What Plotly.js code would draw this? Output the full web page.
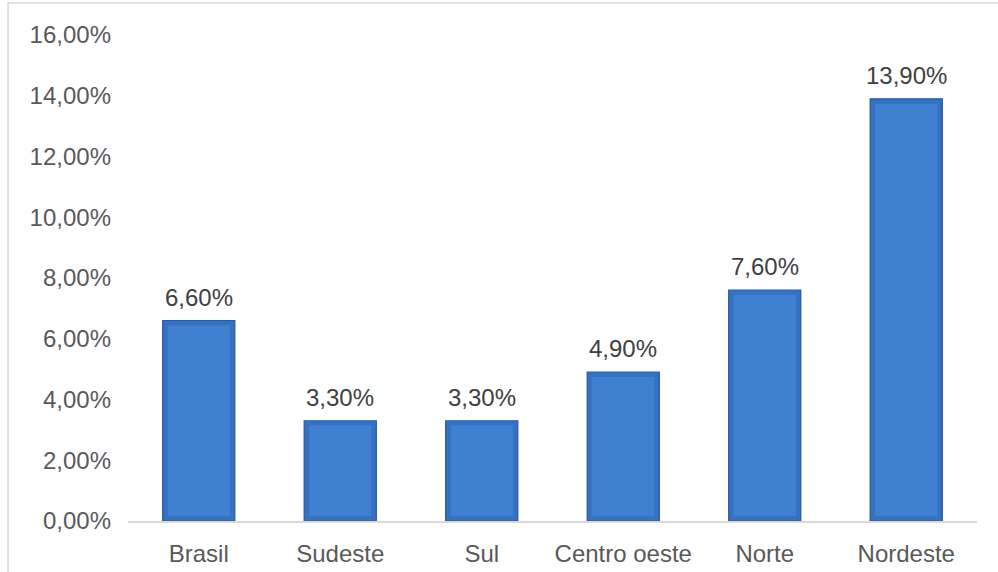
<!DOCTYPE html>
<html>
<head>
<meta charset="utf-8">
<script src="https://cdn.plot.ly/plotly-3.0.1.min.js"></script>
<style>html,body{margin:0;padding:0;background:#fff;}#chart{width:998px;height:572px;}</style>
</head>
<body>
<div id="chart"></div>
<script>
const categories = ["Brasil", "Sudeste", "Sul", "Centro oeste", "Norte", "Nordeste"];
const values = [6.6, 3.3, 3.3, 4.9, 7.6, 13.9];
const tickValues = [0, 2, 4, 6, 8, 10, 12, 14, 16];

function fmt(v) { return v.toFixed(2).replace('.', ',') + '%'; }
const tickLabels = tickValues.map(fmt);
const dataLabels = values.map(fmt);

// bevel inset (in axis units) used only for styling the inner face
const inset = 0.16;

const outer = {
  type: 'bar', x: categories, y: values, width: 0.51,
  marker: { color: '#3670c0', line: { color: '#2a5a9c', width: 1.2 } },
  hoverinfo: 'skip'
};
const inner = {
  type: 'bar', x: categories, y: values.map(v => v - 2 * inset),
  base: values.map(() => inset), width: 0.44,
  marker: { color: '#3f80d0', line: { width: 0 } },
  hoverinfo: 'skip'
};

const annotations = categories.map((c, i) => ({
  x: c, y: values[i], text: dataLabels[i], showarrow: false,
  yanchor: 'bottom', yshift: 8,
  font: { family: 'Liberation Sans, Arial, sans-serif', size: 24, color: '#404040' }
}));

const layout = {
  width: 998, height: 572,
  margin: { l: 128, r: 21, t: 35, b: 51 },
  paper_bgcolor: '#fff', plot_bgcolor: '#fff',
  showlegend: false,
  barmode: 'overlay',
  font: { family: 'Liberation Sans, Arial, sans-serif', size: 24, color: '#595959' },
  xaxis: {
    type: 'category', showgrid: false, zeroline: false,
    showline: true, linecolor: '#d9d9d9', linewidth: 1.5,
    ticks: '', ticklabelstandoff: 11,
    tickfont: { size: 24, color: '#595959' }
  },
  yaxis: {
    range: [0, 16], tickvals: tickValues, ticktext: tickLabels,
    showgrid: false, zeroline: false, showline: false, ticks: '',
    ticklabelstandoff: 16,
    tickfont: { size: 24, color: '#595959' }
  },
  annotations: annotations,
  shapes: [{
    type: 'rect', xref: 'paper', yref: 'paper',
    x0: -0.1413, x1: 1.1, y0: -0.3, y1: 1.0658,
    line: { color: '#d9d9d9', width: 1.5 }, layer: 'below'
  }]
};

Plotly.newPlot('chart', [outer, inner], layout, { displayModeBar: false, staticPlot: true });
</script>
</body>
</html>
